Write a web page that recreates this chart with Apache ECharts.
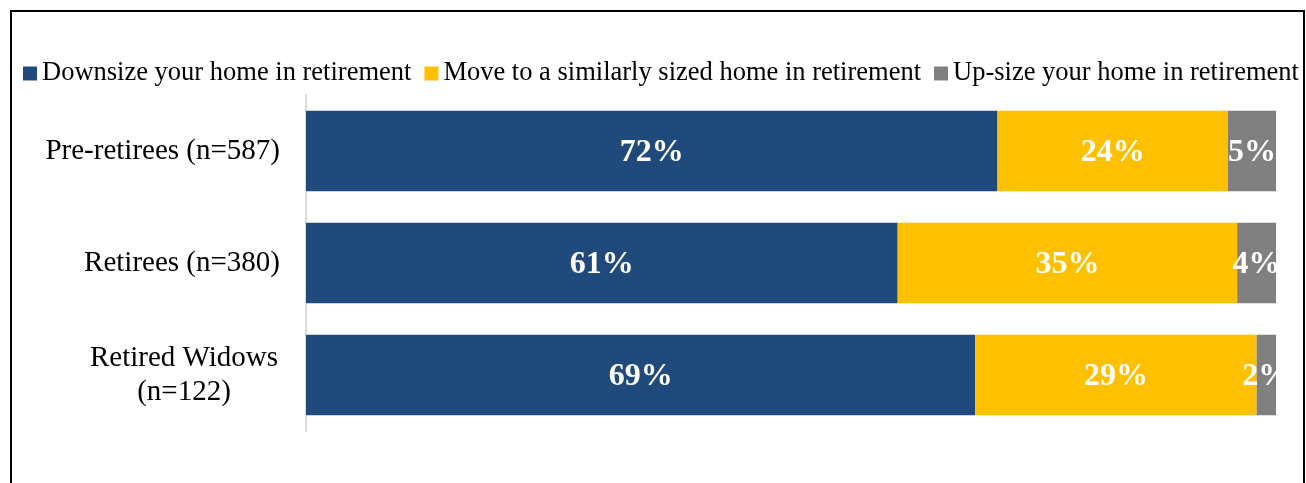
<!DOCTYPE html>
<html>
<head>
<meta charset="utf-8">
<script src="https://cdn.jsdelivr.net/npm/echarts@6/dist/echarts.min.js"></script>
<style>
  html, body { margin: 0; padding: 0; background: #ffffff; }
  #chart { width: 1306px; height: 483px; }
</style>
</head>
<body>
<div id="chart"></div>
<script>
// Survey groups and answer shares (percent of each group)
const categories = ['Pre-retirees (n=587)', 'Retirees (n=380)', 'Retired Widows\n(n=122)'];
const seriesNames = [
  'Downsize your home in retirement',
  'Move to a similarly sized home in retirement',
  'Up-size your home in retirement'
];
const downsize = [72, 61, 69];
const similar = [24, 35, 29];
const upsize = [5, 4, 2];
const colors = ['#214a7c', '#ffc000', '#808080'];

const raw = [downsize, similar, upsize];
// 100% stacked: each bar is scaled to its own row total
const totals = categories.map((_, i) => raw.reduce((s, arr) => s + arr[i], 0));

const serif = '"Liberation Serif", "Times New Roman", serif';

const series = raw.map((arr, k) => ({
  name: seriesNames[k],
  type: 'bar',
  stack: 'total',
  barCategoryGap: '28%',
  itemStyle: { color: colors[k] },
  label: {
    show: true,
    position: 'inside',
    offset: [0, 2],
    color: '#ffffff',
    fontFamily: serif,
    fontWeight: 'bold',
    fontSize: 32,
    formatter: p => arr[p.dataIndex] + '%'
  },
  data: arr.map((v, i) => v / totals[i] * 100)
}));

const chart = echarts.init(document.getElementById('chart'), null, { renderer: 'canvas' });
chart.setOption({
  animation: false,
  backgroundColor: '#ffffff',
  graphic: [{
    type: 'rect',
    shape: { x: 11, y: 11, width: 1293, height: 500 },
    style: { fill: 'none', stroke: '#000000', lineWidth: 2 },
    silent: true
  }],
  legend: {
    left: 18,
    top: 55,
    itemWidth: 14,
    itemHeight: 14,
    itemGap: 13,
    icon: 'rect',
    textStyle: { fontFamily: serif, fontSize: 26.5, color: '#000000' },
    data: seriesNames
  },
  grid: { left: 306, right: 30, top: 95, bottom: 52, containLabel: false },
  xAxis: {
    type: 'value',
    min: 0,
    max: 100,
    show: false
  },
  yAxis: {
    type: 'category',
    inverse: true,
    data: categories,
    axisTick: { show: false },
    axisLine: { show: true, lineStyle: { color: '#d9d9d9', width: 2 } },
    axisLabel: {
      margin: 26,
      color: '#000000',
      fontFamily: serif,
      fontSize: 29,
      formatter: v => {
        const lines = v.split('\n');
        if (lines.length === 1) return v;
        return lines.map(l => '{c|' + l + '}').join('\n');
      },
      rich: {
        c: {
          width: 192,
          align: 'center',
          fontFamily: serif,
          fontSize: 29,
          lineHeight: 34,
          color: '#000000'
        }
      }
    }
  },
  series: series
});
</script>
</body>
</html>
